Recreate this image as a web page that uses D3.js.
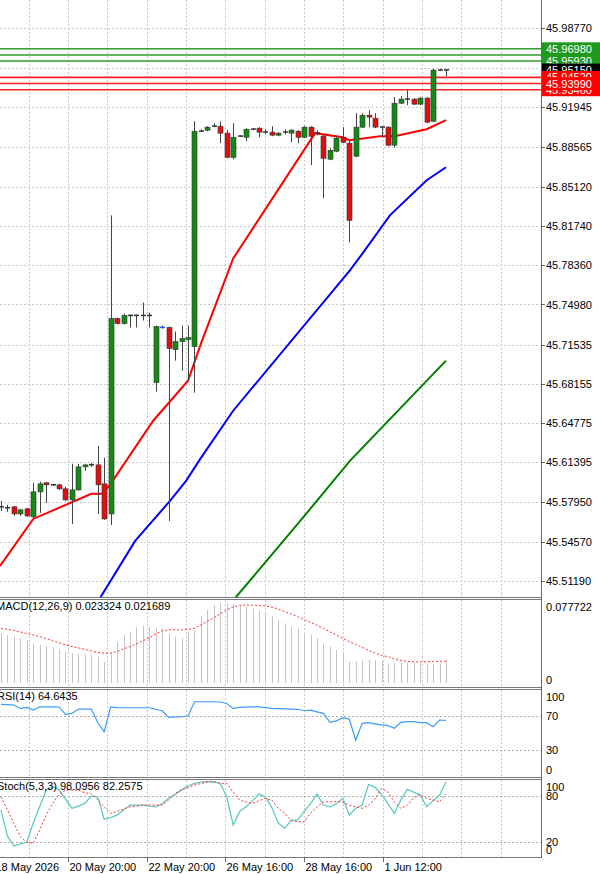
<!DOCTYPE html>
<html><head><meta charset="utf-8">
<script src="https://cdn.jsdelivr.net/npm/d3@7/dist/d3.min.js"></script>
<style>body{margin:0;background:#fff}svg{display:block}text{font-family:"Liberation Sans",Arial,sans-serif;font-size:11px}</style>
</head><body><svg id="c" width="600" height="874"></svg>
<script>
// ---- data ----
const opens  = [45.5760,45.5748,45.5757,45.5696,45.5740,45.5671,45.5886,45.5964,45.5946,45.5946,45.5912,45.5817,45.5903,45.6101,45.6118,45.6118,45.5955,45.5696,45.7377,45.7334,45.7403,45.7403,45.7403,45.7403,45.6826,45.7300,45.7300,45.7110,45.7179,45.7196,45.7136,45.8989,45.8998,45.9032,45.9032,45.8972,45.8765,45.8946,45.8937,45.9006,45.9015,45.8981,45.8981,45.8955,45.8981,45.8972,45.8989,45.8937,45.9024,45.8972,45.8946,45.8748,45.8817,45.8937,45.8886,45.8774,45.9024,45.9127,45.9101,45.9024,45.9024,45.8869,45.9230,45.9265,45.9265,45.9222,45.9274,45.9075,45.9515,45.9515];
const highs  = [45.5808,45.5774,45.5765,45.5740,45.5748,45.5964,45.5972,45.5972,45.5955,45.5955,45.5929,45.6127,45.6127,45.6127,45.6135,45.6282,45.6179,45.8265,45.7386,45.7420,45.7412,45.7412,45.7515,45.7429,45.7317,45.7317,45.7308,45.7265,45.7317,45.7317,45.9075,45.9006,45.9032,45.9058,45.9075,45.8998,45.9058,45.8955,45.9015,45.9015,45.9024,45.9006,45.9032,45.8981,45.9006,45.9006,45.8998,45.9032,45.9032,45.8998,45.8963,45.8843,45.8946,45.9024,45.8912,45.9144,45.9144,45.9170,45.9144,45.9032,45.9032,45.9282,45.9291,45.9343,45.9274,45.9282,45.9282,45.9524,45.9524,45.9524];
const lows   = [45.5722,45.5714,45.5679,45.5679,45.5671,45.5662,45.5705,45.5791,45.5938,45.5903,45.5808,45.5610,45.5895,45.6067,45.6101,45.5696,45.5645,45.5601,45.7325,45.7325,45.7300,45.7300,45.7360,45.7300,45.6748,45.7290,45.5636,45.7015,45.6929,45.6843,45.6739,45.8981,45.8989,45.9024,45.8886,45.8756,45.8748,45.8938,45.8903,45.8998,45.8937,45.8963,45.8946,45.8946,45.8963,45.8894,45.8886,45.8929,45.8696,45.8955,45.8412,45.8739,45.8808,45.8886,45.8032,45.8765,45.9015,45.9024,45.9015,45.8937,45.8860,45.8851,45.9222,45.9213,45.9213,45.9213,45.9058,45.9067,45.9506,45.9463];
const closes = [45.5755,45.5750,45.5696,45.5731,45.5679,45.5886,45.5955,45.5946,45.5948,45.5912,45.5817,45.5903,45.6101,45.6118,45.6120,45.5946,45.5653,45.7377,45.7334,45.7403,45.7405,45.7405,45.7405,45.7405,45.7308,45.7302,45.7119,45.7179,45.7205,45.7213,45.8989,45.8991,45.9024,45.9034,45.8972,45.8765,45.8937,45.8948,45.9006,45.9008,45.8981,45.8983,45.8955,45.8972,45.8983,45.8998,45.8937,45.9024,45.8946,45.8974,45.8756,45.8825,45.8929,45.8894,45.8222,45.9024,45.9127,45.9110,45.9024,45.9026,45.8869,45.9230,45.9265,45.9267,45.9222,45.9274,45.9067,45.9515,45.9517,45.9517];
const maRed   = [[-0.15,45.5248],[2.6,45.5464],[5,45.5653],[14,45.5869],[15.7,45.5869],[17,45.5955],[23.6,45.6498],[29,45.6843],[31,45.7162],[36,45.7894],[48.7,45.8972],[53,45.8937],[54,45.8912],[58.8,45.8946],[61,45.8946],[66,45.9006],[69,45.9084]];
const maBlue  = [[15.35,45.4972],[20.8,45.5464],[26.2,45.5808],[28.7,45.5981],[30.9,45.6170],[36,45.6584],[54.1,45.7791],[56.4,45.7963],[60.3,45.8265],[66,45.8567],[69,45.8679]];
const maGreen = [[36.3,45.4972],[46.4,45.5636],[54.1,45.6153],[69,45.7015]];
const priceTicks = [45.98770,45.95345,45.91945,45.88565,45.85120,45.81740,45.78360,45.74980,45.71535,45.68155,45.64775,45.61395,45.57950,45.54570,45.51190];
const levelsGreen = [45.96450,45.96980,45.95930];
const levelsRed = [45.94520,45.93460,45.93990];
const lastPrice = 45.95150;
const macdHist = [.0495,.0478,.0462,.0445,.0428,.0395,.0379,.0362,.0355,.0336,.0312,.0296,.0289,.0289,.0279,.0262,.0213,.0296,.0412,.0478,.0511,.0555,.0568,.0561,.0545,.0545,.0495,.0462,.0445,.0511,.0528,.0661,.0727,.0777,.0800,.0794,.0787,.0777,.0761,.0744,.0721,.0701,.0668,.0628,.0595,.0561,.0545,.0511,.0478,.0445,.0395,.0362,.0329,.0312,.0213,.0213,.0222,.0236,.0229,.0222,.0196,.0203,.0203,.0203,.0203,.0196,.0196,.0196,.0196,.0233];
const macdSignal = [.0544,.0535,.0522,.0508,.0493,.0480,.0462,.0443,.0422,.0400,.0380,.0365,.0350,.0335,.0320,.0305,.0297,.0298,.0315,.0340,.0362,.0390,.0420,.0450,.0490,.0520,.0530,.0530,.0528,.0535,.0545,.0580,.0615,.0650,.0690,.0730,.0760,.0772,.0777,.0775,.0772,.0768,.0755,.0735,.0712,.0688,.0660,.0630,.0605,.0575,.0545,.0510,.0478,.0445,.0412,.0385,.0355,.0325,.0300,.0275,.0262,.0240,.0225,.0215,.0212,.0210,.0212,.0215,.0216,.0217];
const rsi = [83.2,83,82.4,78.5,79.7,76.5,80.4,80.4,80.4,80.2,71.5,72.7,77.7,77.7,77.7,62,51.3,80.4,79.5,79.3,79.3,79.3,79.3,79.3,77.5,75.8,68.1,68.6,68.8,69.6,86.3,86.3,86.3,86.3,86,84.3,78.5,79.7,80,80.4,80.4,79.5,78.5,78.3,78,77.7,77.5,75.8,76.6,74.5,72.7,62.3,64,67.7,66.1,41.6,61.1,61.9,60.5,59.2,58.4,55.3,62.3,63,63.1,61.9,61.9,57.2,65,64.6];
const stochMain = [61.8,28,15.2,18,20,45,66,87.7,92,88,76,64,67,70.5,80,79,50,52,55.3,62,68.3,68.3,68.3,67,66,70,77,82,88,93,96.4,98,98.5,98.5,96,79,42.4,60,66,74,82.5,79,65,45,38,48.8,48.8,60,70,82.5,68.3,66,70,77,55.3,64,68.3,95,91.2,82,70,57.5,75,88.6,85,81.2,66,74,81,98.1];
const stochSignal = [79,62,44.6,27.3,20,18.7,36,55,70.5,82,87.7,87.7,87.7,84,83.4,75,66,57.5,60,63,66,67,68,68.3,68.3,68.3,75,83.4,88,91,94.2,96,98.5,98.5,96.4,96.4,85,74.7,72,70.5,74,77,74.7,64,57.5,48,46.7,46.7,58,66,72.6,72.6,72.6,72,68,66,64,68,76,89.9,85,72,64,68,78,82,77,74.7,72.6,82.3];
const gridIdx = [4.3,10.4,16.5,22.6,28.7,34.8,40.9,47.0,53.1,59.2,65.3,71.4,77.5];
const timeLabels = ["18 May 2026","20 May 20:00","22 May 20:00","26 May 16:00","28 May 16:00","1 Jun 12:00"];
const timeIdx = [-1.1,10.4,22.6,34.8,47.0,59.2];

// ---- layout ----
const svg = d3.select("#c");
const W = 541;
const x = d3.scaleLinear().domain([0,69]).range([1,446]);
const y = d3.scaleLinear().domain([45.51190,45.98770]).range([581,28]);
const P = {main:[0,597], macd:[600,687], rsi:[690,777], st:[780,857]};
const yM = d3.scaleLinear().domain([0,0.077722]).range([683,605]);
const yR = d3.scaleLinear().domain([0,100]).range([775.7,690]);
const yS = d3.scaleLinear().domain([0,100]).range([857.7,780.6]);
const grid = "#c8c8c8";

const defs = svg.append("defs");
Object.entries(P).forEach(([k,[t,b]])=>{
  defs.append("clipPath").attr("id","cl"+k).append("rect").attr("x",0).attr("y",t).attr("width",W).attr("height",b-t);
});

Object.values(P).forEach(([t,b])=>{
  gridIdx.forEach(g=>{ const gx=Math.round(x(g))+0.5; if(gx<W) svg.append("line").attr("x1",gx).attr("x2",gx).attr("y1",t).attr("y2",b).attr("stroke",grid).attr("stroke-dasharray","2,2");});
});
priceTicks.forEach(p=>{ const py=Math.round(y(p))+0.5; svg.append("line").attr("x1",0).attr("x2",W).attr("y1",py).attr("y2",py).attr("stroke",grid).attr("stroke-dasharray","2,2");});
[[yR,70],[yR,30],[yS,80],[yS,20]].forEach(([s,v])=>{const py=Math.round(s(v))+0.5; svg.append("line").attr("x1",0).attr("x2",W).attr("y1",py).attr("y2",py).attr("stroke","#b0b0b0").attr("stroke-dasharray","2,2");});

const gMain = svg.append("g").attr("clip-path","url(#clmain)");
levelsGreen.forEach(v=>gMain.append("line").attr("x1",0).attr("x2",W).attr("y1",y(v)).attr("y2",y(v)).attr("stroke","#2e9e2e").attr("stroke-width",1.6));
levelsRed.forEach(v=>gMain.append("line").attr("x1",0).attr("x2",W).attr("y1",y(v)).attr("y2",y(v)).attr("stroke","#ff2020").attr("stroke-width",1.6));

const ln = d3.line().x(d=>x(d[0])).y(d=>y(d[1]));
[[maGreen,"#008000"],[maBlue,"#0000ff"],[maRed,"#ff0000"]].forEach(([d,c])=>gMain.append("path").attr("d",ln(d)).attr("fill","none").attr("stroke",c).attr("stroke-width",2));

const idx = d3.range(opens.length);
idx.forEach(i=>{
  const cx=Math.round(x(i))+0.5, o=opens[i], c=closes[i];
  gMain.append("line").attr("x1",cx).attr("x2",cx).attr("y1",y(highs[i])).attr("y2",y(lows[i])).attr("stroke","#444");
  const top=y(Math.max(o,c)), bot=y(Math.min(o,c));
  if(bot-top<1.5){
    gMain.append("line").attr("x1",cx-2.5).attr("x2",cx+2.5).attr("y1",(top+bot)/2).attr("y2",(top+bot)/2).attr("stroke",i==25?"#3050ff":"#333").attr("stroke-width",1.5);
  } else {
    gMain.append("rect").attr("x",cx-2.5).attr("y",top).attr("width",5).attr("height",bot-top)
      .attr("fill",c>o?"#138a13":"#e01010").attr("stroke","#333").attr("stroke-width",0.6);
  }
});

const gMacd = svg.append("g").attr("clip-path","url(#clmacd)");
macdHist.forEach((v,i)=>{const cx=Math.round(x(i))+0.5; gMacd.append("line").attr("x1",cx).attr("x2",cx).attr("y1",yM(0)).attr("y2",yM(v)).attr("stroke","#c4c4c4");});
gMacd.append("path").attr("d",d3.line().x((d,i)=>x(i)).y(d=>yM(d))(macdSignal)).attr("fill","none").attr("stroke","#ff3030").attr("stroke-dasharray","2,2");
svg.append("g").attr("clip-path","url(#clrsi)").append("path").attr("d",d3.line().x((d,i)=>x(i)).y(d=>yR(d))(rsi)).attr("fill","none").attr("stroke","#3d9bff").attr("stroke-width",1.2);
const gSt = svg.append("g").attr("clip-path","url(#clst)");
gSt.append("path").attr("d",d3.line().x((d,i)=>x(i)).y(d=>yS(d))(stochMain)).attr("fill","none").attr("stroke","#62cbc2").attr("stroke-width",1.3);
gSt.append("path").attr("d",d3.line().x((d,i)=>x(i)).y(d=>yS(d))(stochSignal)).attr("fill","none").attr("stroke","#ff3030").attr("stroke-dasharray","2,2");

[597.5,599.5,687.5,689.5,777.5,779.5,857.5].forEach(py=>svg.append("line").attr("x1",0).attr("x2",W).attr("y1",py).attr("y2",py).attr("stroke","#777").attr("stroke-width",1));
svg.append("line").attr("x1",W+0.5).attr("x2",W+0.5).attr("y1",0).attr("y2",858).attr("stroke","#666");

priceTicks.forEach((p,k)=>{ if(k===1) return; const py=y(p);
  svg.append("line").attr("x1",W).attr("x2",W+4).attr("y1",Math.round(py)+0.5).attr("y2",Math.round(py)+0.5).attr("stroke","#666");
  svg.append("text").attr("x",546).attr("y",py+4).text(p.toFixed(5));});
function tag(v,bg){const py=y(v);
  svg.append("rect").attr("x",542).attr("y",py-6.5).attr("width",58).attr("height",13).attr("fill",bg);
  svg.append("text").attr("x",546).attr("y",py+4).attr("fill","#fff").text(v.toFixed(5));}
levelsGreen.forEach(v=>tag(v,"#1f9a1f"));
tag(lastPrice,"#000");
levelsRed.forEach(v=>tag(v,"#ff0000"));

function sub(s,vals,fmt,t,b){vals.forEach(v=>{let py=s(v); py=Math.max(t+7,Math.min(b-7,py));
  svg.append("text").attr("x",546).attr("y",py+4).text(fmt(v));});}
sub(yM,[0.077722,0],v=>v===0?"0":v.toFixed(6),P.macd[0],P.macd[1]);
sub(yR,[100,70,30,0],String,P.rsi[0],P.rsi[1]);
sub(yS,[100,80,20,0],String,P.st[0],P.st[1]);

svg.append("text").attr("x",-4).attr("y",610).text("MACD(12,26,9) 0.023324 0.021689");
svg.append("text").attr("x",-3).attr("y",700).text("RSI(14) 64.6435");
svg.append("text").attr("x",-3).attr("y",790).text("Stoch(5,3,3) 98.0956 82.2575");

timeIdx.forEach((t,k)=>{const tx=Math.round(x(t))+0.5;
  svg.append("line").attr("x1",tx).attr("x2",tx).attr("y1",858).attr("y2",862).attr("stroke","#666");
  svg.append("text").attr("x",tx+1).attr("y",871).text(timeLabels[k]);});
</script></body></html>
